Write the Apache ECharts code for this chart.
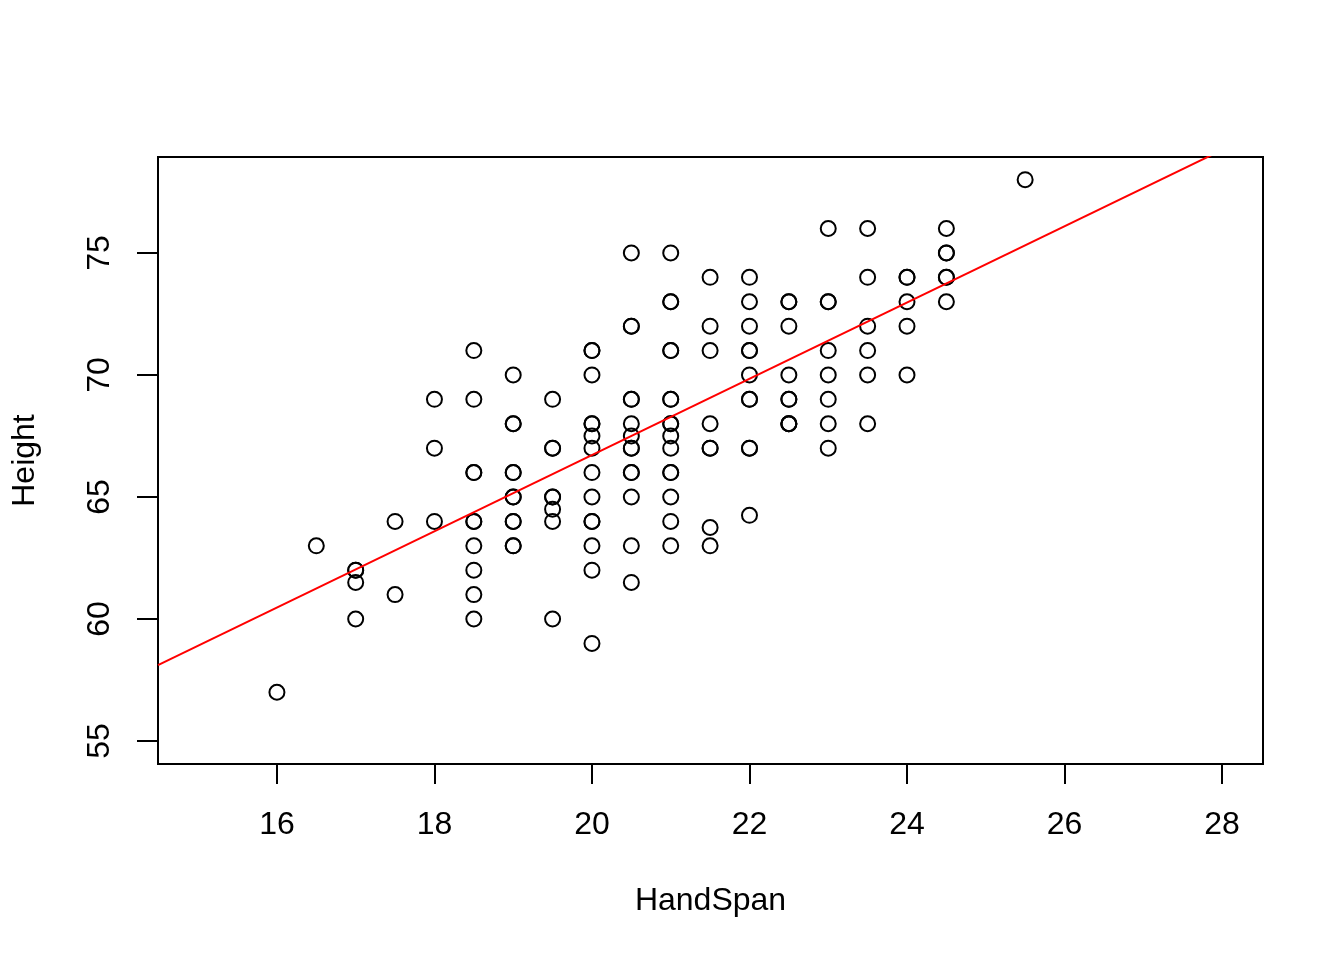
<!DOCTYPE html>
<html>
<head>
<meta charset="utf-8">
<script src="https://cdn.jsdelivr.net/npm/echarts@6/dist/echarts.min.js"></script>
<style>
html,body{margin:0;padding:0;background:#fff;}
#chart{width:1344px;height:960px;}
</style>
</head>
<body>
<div id="chart"></div>
<script>
// Data (duplicates repeated)
const handSpan = [
  16,
  16.5,
  17, 17, 17, 17,
  17.5, 17.5,
  18, 18, 18,
  18.5, 18.5, 18.5, 18.5, 18.5, 18.5, 18.5, 18.5, 18.5, 18.5,
  19, 19, 19, 19, 19, 19, 19, 19, 19, 19, 19,
  19.5, 19.5, 19.5, 19.5, 19.5, 19.5, 19.5, 19.5,
  20, 20, 20, 20, 20, 20, 20, 20, 20, 20, 20, 20, 20, 20,
  20.5, 20.5, 20.5, 20.5, 20.5, 20.5, 20.5, 20.5, 20.5, 20.5, 20.5, 20.5, 20.5, 20.5,
  21, 21, 21, 21, 21, 21, 21, 21, 21, 21, 21, 21, 21, 21, 21, 21,
  21.5, 21.5, 21.5, 21.5, 21.5, 21.5, 21.5, 21.5,
  22, 22, 22, 22, 22, 22, 22, 22, 22, 22, 22,
  22.5, 22.5, 22.5, 22.5, 22.5, 22.5, 22.5, 22.5, 22.5,
  23, 23, 23, 23, 23, 23, 23, 23,
  23.5, 23.5, 23.5, 23.5, 23.5, 23.5,
  24, 24, 24, 24, 24,
  24.5, 24.5, 24.5, 24.5, 24.5, 24.5,
  25.5
];
const height = [
  57,
  63,
  62, 62, 61.5, 60,
  64, 61,
  69, 67, 64,
  71, 69, 66, 66, 64, 64, 63, 62, 61, 60,
  70, 68, 68, 66, 66, 65, 65, 64, 64, 63, 63,
  69, 67, 67, 65, 65, 64.5, 64, 60,
  71, 71, 70, 68, 68, 67.5, 67, 66, 65, 64, 64, 63, 62, 59,
  75, 72, 72, 69, 69, 68, 67.5, 67, 67, 66, 66, 65, 63, 61.5,
  75, 73, 73, 71, 71, 69, 69, 68, 68, 67.5, 67, 66, 66, 65, 64, 63,
  74, 72, 71, 68, 67, 67, 63.75, 63,
  74, 73, 72, 71, 71, 70, 69, 69, 67, 67, 64.25,
  73, 73, 72, 70, 69, 69, 68, 68, 68,
  76, 73, 73, 71, 70, 69, 68, 67,
  76, 74, 72, 71, 70, 68,
  74, 74, 73, 72, 70,
  76, 75, 75, 74, 74, 73,
  78
];
const xTicks = [16, 18, 20, 22, 24, 26, 28];
const yTicks = [55, 60, 65, 70, 75];
const xRange = [14.49, 28.52];
const yRange = [54.06, 78.93];
// least-squares fit line (Height = intercept + slope * HandSpan)
const fitCoef = [35.48, 1.562];

const points = handSpan.map((x, i) => [x, height[i]]);
const fitLine = xRange.map(x => [x, fitCoef[0] + fitCoef[1] * x]);

const FONT = 'Liberation Sans, Arial, Helvetica, sans-serif';
const chart = echarts.init(document.getElementById('chart'), null, {renderer: 'canvas'});
chart.setOption({
  animation: false,
  backgroundColor: '#ffffff',
  grid: {
    left: 158, right: 81, top: 157, bottom: 196,
    show: true, borderColor: '#000', borderWidth: 2, backgroundColor: 'transparent',
    containLabel: false
  },
  xAxis: {
    type: 'value', min: xRange[0], max: xRange[1],
    axisLine: {show: false},
    splitLine: {show: false},
    axisTick: {show: true, customValues: xTicks, length: 20, inside: false, lineStyle: {color: '#000', width: 2}},
    axisLabel: {show: true, customValues: xTicks, fontSize: 32, fontFamily: FONT, color: '#000', margin: 45},
    name: 'HandSpan', nameLocation: 'middle', nameGap: 121,
    nameTextStyle: {fontSize: 32, fontFamily: FONT, color: '#000'}
  },
  yAxis: {
    type: 'value', min: yRange[0], max: yRange[1],
    axisLine: {show: false},
    splitLine: {show: false},
    axisTick: {show: true, customValues: yTicks, length: 21, inside: false, lineStyle: {color: '#000', width: 2}},
    axisLabel: {show: true, customValues: yTicks, rotate: 90, fontSize: 32, fontFamily: FONT, color: '#000', margin: 42},
    name: 'Height', nameLocation: 'middle', nameGap: 117, nameRotate: 90,
    nameTextStyle: {fontSize: 32, fontFamily: FONT, color: '#000'}
  },
  series: [
    {
      type: 'scatter',
      data: points,
      symbol: 'circle',
      symbolSize: 15,
      itemStyle: {color: 'rgba(0,0,0,0)', borderColor: '#000', borderWidth: 2, opacity: 1},
      emphasis: {disabled: true},
      z: 3
    },
    {
      type: 'line',
      data: fitLine,
      showSymbol: false,
      clip: true,
      lineStyle: {color: '#ff0000', width: 2},
      emphasis: {disabled: true},
      z: 4
    }
  ]
});
</script>
</body>
</html>
